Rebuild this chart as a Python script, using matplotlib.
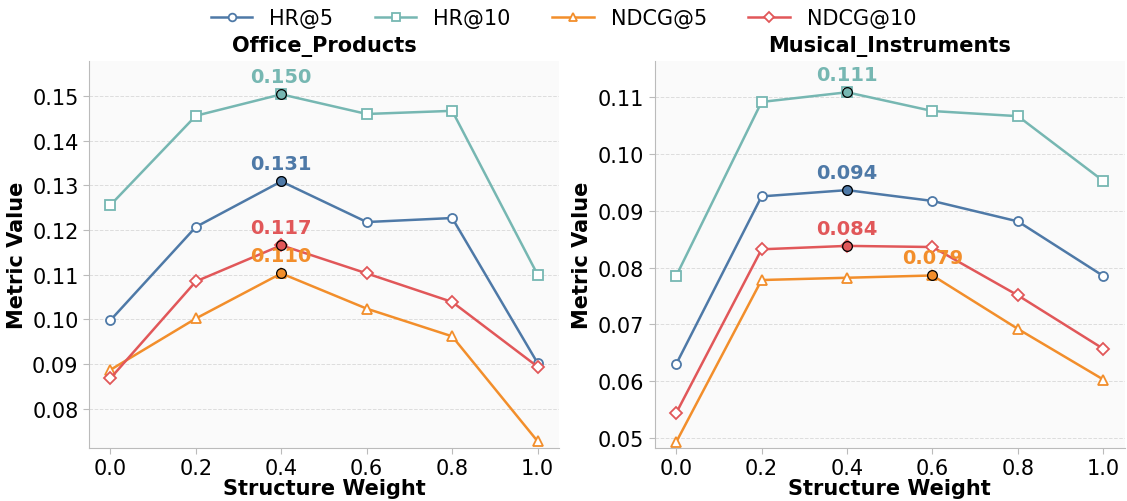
import matplotlib.pyplot as plt

# Valeurs
weights = [0.0, 0.2, 0.4, 0.6, 0.8, 1.0]
metrics = ['HR@5', 'HR@10', 'NDCG@5', 'NDCG@10']

office_hr5 = [0.0998, 0.1207, 0.1309, 0.1218, 0.1227, 0.0902]
office_hr10 = [0.1256, 0.1456, 0.1504, 0.1460, 0.1467, 0.1100]
office_ndcg5 = [0.0887, 0.1002, 0.1103, 0.1024, 0.0962, 0.0727]
office_ndcg10 = [0.0868, 0.1085, 0.1166, 0.1103, 0.1039, 0.0894]

music_hr5 = [0.0630, 0.0925, 0.0936, 0.0917, 0.0881, 0.0785]
music_hr10 = [0.0785, 0.1091, 0.1108, 0.1075, 0.1066, 0.0952]
music_ndcg5 = [0.0493, 0.0778, 0.0782, 0.0786, 0.0692, 0.0603]
music_ndcg10 = [0.0544, 0.0832, 0.0838, 0.0836, 0.0751, 0.0657]

colors = ['#4e79a7', '#76b7b2', '#f28e2b', '#e15759']
markers = ['o', 's', '^', 'D']

datasets = {
    'Office_Products': [office_hr5, office_hr10, office_ndcg5, office_ndcg10],
    'Musical_Instruments': [music_hr5, music_hr10, music_ndcg5, music_ndcg10],
}

fig = plt.figure(figsize=(11.27, 5.02), dpi=100)
positions = [[0.079, 0.106, 0.417, 0.771], [0.581, 0.106, 0.417, 0.771]]

handles = []
for i, (name, series) in enumerate(datasets.items()):
    ax = fig.add_axes(positions[i])
    ax.set_facecolor('#fafafa')
    for values, metric, color, marker in zip(series, metrics, colors, markers):
        msize = 6.5 if marker != '^' else 7
        line, = ax.plot(weights, values, color=color, marker=marker, markersize=msize,
                        markerfacecolor='white', markeredgecolor=color, markeredgewidth=1.3,
                        linewidth=1.8, label=metric)
        if i == 0:
            handles.append(line)
        # Mettre en évidence le meilleur point
        best = max(range(len(values)), key=lambda k: values[k])
        ax.plot(weights[best], values[best], 'o', markersize=7, markerfacecolor=color,
                markeredgecolor='black', markeredgewidth=0.9, zorder=5)
        ax.annotate(f'{values[best]:.3f}', (weights[best], values[best]),
                    xytext=(0, 6), textcoords='offset points', ha='center', va='bottom',
                    fontsize=14, fontweight='bold', color=color)

    all_vals = [v for s in series for v in s]
    ax.set_ylim(min(all_vals) * 0.98, max(all_vals) * 1.05)
    ax.set_xlim(-0.05, 1.05)
    ax.set_xticks(weights)
    ax.tick_params(labelsize=15, labelcolor='black', color='#bbbbbb', length=4)
    ax.grid(axis='y', linestyle='--', color='#dddddd', linewidth=0.7)
    ax.set_axisbelow(True)
    for side in ['top', 'right']:
        ax.spines[side].set_visible(False)
    for side in ['left', 'bottom']:
        ax.spines[side].set_color('#bbbbbb')
    ax.set_title(name, fontsize=15, fontweight='bold', pad=7)
    ax.set_xlabel('Structure Weight', fontsize=15, fontweight='bold', labelpad=0)
    ax.set_ylabel('Metric Value', fontsize=15, fontweight='bold')

fig.legend(handles=handles, labels=metrics, loc='center', ncol=4, frameon=False,
           fontsize=15, bbox_to_anchor=(0.5, 0.962), columnspacing=2.0, handlelength=2.0,
           markerscale=0.85)

plt.savefig('out.png', dpi=100)
